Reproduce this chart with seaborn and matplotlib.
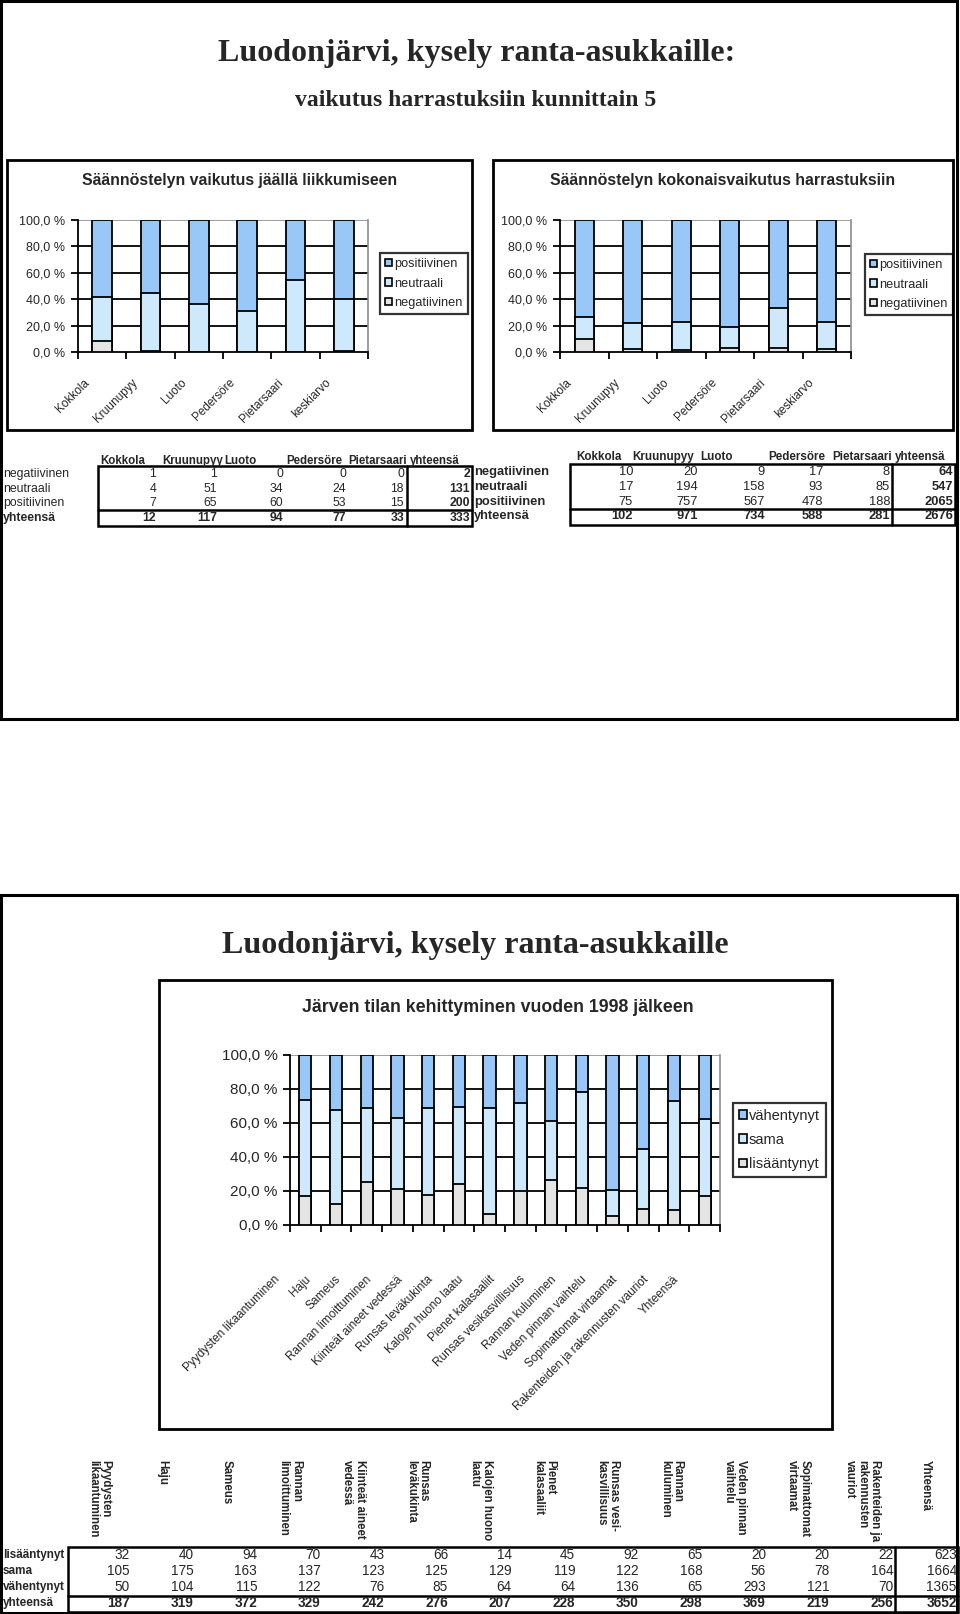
import matplotlib
matplotlib.use("Agg")
import matplotlib.pyplot as plt
from matplotlib.patches import Rectangle, Patch
from matplotlib.lines import Line2D
import numpy as np
import pandas as pd
import seaborn as sns

# --- data -------------------------------------------------------------
kunnat = ["Kokkola", "Kruunupyy", "Luoto", "Pedersöre", "Pietarsaari"]
luokat = ["negatiivinen", "neutraali", "positiivinen"]

jaa_neg = [1, 1, 0, 0, 0]
jaa_neu = [4, 51, 34, 24, 18]
jaa_pos = [7, 65, 60, 53, 15]

koko_neg = [10, 20, 9, 17, 8]
koko_neu = [17, 194, 158, 93, 85]
koko_pos = [75, 757, 567, 478, 188]

tekijat = ["Pyydysten likaantuminen", "Haju", "Sameus", "Rannan limoittuminen",
           "Kiinteät aineet vedessä", "Runsas leväkukinta", "Kalojen huono laatu",
           "Pienet kalasaaliit", "Runsas vesikasvillisuus", "Rannan kuluminen",
           "Veden pinnan vaihtelu", "Sopimattomat virtaamat",
           "Rakenteiden ja rakennusten vauriot"]
tekijat_otsikot = ["Pyydysten\nlikaantuminen", "Haju", "Sameus", "Rannan\nlimoittuminen",
                   "Kiinteät aineet\nvedessä", "Runsas\nleväkukinta", "Kalojen huono\nlaatu",
                   "Pienet\nkalasaaliit", "Runsas vesi-\nkasvillisuus", "Rannan\nkuluminen",
                   "Veden pinnan\nvaihtelu", "Sopimattomat\nvirtaamat",
                   "Rakenteiden ja\nrakennusten\nvauriot"]
lisaantynyt = [32, 40, 94, 70, 43, 66, 14, 45, 92, 65, 20, 20, 22]
sama = [105, 175, 163, 137, 123, 125, 129, 119, 122, 168, 56, 78, 164]
vahentynyt = [50, 104, 115, 122, 76, 85, 64, 64, 136, 65, 293, 121, 70]

SININEN = "#99C8F8"
VAALEA = "#CDE9FB"
HARMAA = "#E4E4E4"

W, H = 960, 1614
sns.set_style("white")
plt.rcParams["font.family"] = ["Liberation Sans", "DejaVu Sans"]
SERIF = ["Liberation Serif", "DejaVu Serif"]

fig = plt.figure(figsize=(W / 100, H / 100), dpi=100)


def px_ax(x0, y0, x1, y1):
    return fig.add_axes([x0 / W, 1 - y1 / H, (x1 - x0) / W, (y1 - y0) / H])


def laatikko(x0, y0, x1, y1, lw=2.0, color="black"):
    fig.add_artist(Rectangle((x0 / W, 1 - y1 / H), (x1 - x0) / W, (y1 - y0) / H,
                             transform=fig.transFigure, fill=False, ec=color, lw=lw))


def viiva(x0, y0, x1, y1, lw=1.5):
    fig.add_artist(Line2D([x0 / W, x1 / W], [1 - y0 / H, 1 - y1 / H],
                          transform=fig.transFigure, color="black", lw=lw))


def teksti(x, y, s, **kw):
    kw.setdefault("va", "center")
    fig.text(x / W, 1 - y / H, s, **kw)


def pinottu(ax, nimet, sarjat, varit):
    # sarjat alhaalta ylös; piirretään kumulatiiviset osuudet ylhäältä alas
    df = pd.DataFrame(dict(zip(range(len(sarjat)), sarjat)), index=nimet)
    kum = df.div(df.sum(axis=1), axis=0).cumsum(axis=1)
    for i in reversed(range(len(sarjat))):
        d = pd.DataFrame({"nimi": nimet, "osuus": kum[i].values})
        sns.barplot(data=d, x="nimi", y="osuus", order=nimet, color=varit[i],
                    saturation=1, width=0.4, edgecolor="black", linewidth=1.3,
                    ax=ax, zorder=3)


def muotoile(ax, n, ytick_size):
    ax.set_xlim(-0.5, n - 0.5)
    ax.set_ylim(0, 1)
    ax.set_xlabel("")
    ax.set_ylabel("")
    tasot = np.arange(0, 1.01, 0.2)
    ax.set_yticks(tasot)
    ax.set_yticklabels([f"{v * 100:.1f} %".replace(".", ",") for v in tasot],
                       fontsize=ytick_size)
    ax.set_xticks(np.arange(-0.5, n, 1.0))
    ax.set_xticklabels([])
    ax.tick_params(axis="both", direction="out", length=5, width=1.3, color="black",
                   left=True, bottom=True, pad=4)
    for v in tasot[1:-1]:
        ax.axhline(v, color="black", lw=1.3, zorder=1)
    ax.axhline(1.0, color="#8c8c8c", lw=1.2, zorder=1)
    for s in ["left", "bottom"]:
        ax.spines[s].set_color("black")
        ax.spines[s].set_linewidth(1.3)
    ax.spines["right"].set_color("#8c8c8c")
    ax.spines["right"].set_linewidth(1.2)
    ax.spines["top"].set_visible(False)
    if ax.get_legend():
        ax.get_legend().remove()


def selite(ax, nimet, varit, x0, y0, size, vali):
    kahvat = [Patch(facecolor=c, edgecolor="black", lw=1.2) for c in varit]
    leg = ax.legend(kahvat, nimet, loc="upper left",
                    bbox_to_anchor=(x0 / W, 1 - y0 / H), bbox_transform=fig.transFigure,
                    fontsize=size, frameon=True, fancybox=False, handlelength=0.55,
                    handleheight=0.55, handletextpad=0.15, labelspacing=vali,
                    borderpad=0.4, borderaxespad=0)
    leg.get_frame().set_edgecolor("black")
    leg.get_frame().set_linewidth(1.6)


# --- page frames and titles -------------------------------------------
laatikko(1, 1, 957, 719, lw=2.2)
laatikko(1, 895, 957, 1613, lw=2.2)

teksti(477, 53, "Luodonjärvi, kysely ranta-asukkaille:", ha="center",
       fontsize=23, fontweight="bold", family=SERIF)
teksti(476, 101, "vaikutus harrastuksiin kunnittain 5", ha="center",
       fontsize=17, fontweight="bold", family=SERIF)
teksti(475, 946, "Luodonjärvi, kysely ranta-asukkaille", ha="center",
       fontsize=23, fontweight="bold", family=SERIF)

# --- top charts --------------------------------------------------------
ylaosat = [
    ("Säännöstelyn vaikutus jäällä liikkumiseen", (jaa_neg, jaa_neu, jaa_pos),
     (7, 160, 472, 430), (78, 220, 368, 352), (380, 253)),
    ("Säännöstelyn kokonaisvaikutus harrastuksiin", (koko_neg, koko_neu, koko_pos),
     (493, 160, 953, 430), (560, 220, 851, 352), (865, 254)),
]
nimet_yla = kunnat + ["keskiarvo"]
for otsikko, sarjat, boksi, alue, sel in ylaosat:
    laatikko(*boksi, lw=2.0)
    teksti((boksi[0] + boksi[2]) / 2, 181, otsikko, ha="center",
           fontsize=11.4, fontweight="bold")
    ax = px_ax(*alue)
    sarjat_k = [list(s) + [sum(s)] for s in sarjat]
    pinottu(ax, nimet_yla, sarjat_k, [HARMAA, VAALEA, SININEN])
    muotoile(ax, len(nimet_yla), 9)
    for i, nimi in enumerate(nimet_yla):
        ax.text(i - 0.3, -0.22, nimi, transform=ax.get_xaxis_transform(),
                rotation=45, ha="right", va="center", rotation_mode="anchor",
                fontsize=8.5)
    selite(ax, luokat[::-1], [SININEN, VAALEA, HARMAA], sel[0], sel[1], 9.2, 0.58)

# --- top tables --------------------------------------------------------
def taulukko(x_otsikot, y_otsikko, x_rivi, y_rivit, x_luvut, sarjat, size,
             otsikko_size, rivi_bold, boksi, x_jako, y_jako):
    otsikot = kunnat + ["yhteensä"]
    for x, s in zip(x_otsikot, otsikot):
        teksti(x, y_otsikko, s, fontsize=otsikko_size, fontweight="bold")
    rivit = luokat + ["yhteensä"]
    sumrivi = [sum(v) for v in zip(*sarjat)]
    kaikki = list(sarjat) + [sumrivi]
    for r, (nimi, y) in enumerate(zip(rivit, y_rivit)):
        viimeinen = r == len(rivit) - 1
        teksti(x_rivi, y, nimi, fontsize=size,
               fontweight="bold" if (rivi_bold or viimeinen) else "normal")
        arvot = list(kaikki[r]) + [sum(kaikki[r])]
        for c, (x, v) in enumerate(zip(x_luvut, arvot)):
            bold = viimeinen or c == len(arvot) - 1
            teksti(x, y, str(v), ha="right", fontsize=size,
                   fontweight="bold" if bold else "normal")
    laatikko(*boksi, lw=1.8)
    viiva(x_jako, boksi[1], x_jako, boksi[3], lw=1.8)
    viiva(boksi[0], y_jako, boksi[2], y_jako, lw=1.8)


taulukko([100, 162, 224, 286, 348, 410], 461, 3, [474, 489, 503, 518],
         [156, 217, 283, 346, 404, 470], (jaa_neg, jaa_neu, jaa_pos), 8.8, 8.3, False,
         (98, 466, 472, 526), 407, 510)
taulukko([576, 632, 700, 768, 832, 895], 457, 474, [472, 487, 502, 516],
         [633, 698, 765, 823, 890, 953], (koko_neg, koko_neu, koko_pos), 9.3, 8.4, True,
         (570, 464, 955, 525), 892, 509)

# --- bottom chart ------------------------------------------------------
laatikko(159, 980, 832, 1429, lw=2.0)
teksti(498, 1008, "Järven tilan kehittyminen vuoden 1998 jälkeen", ha="center",
       fontsize=12.8, fontweight="bold")
ax = px_ax(290, 1055, 720, 1225)
nimet_ala = tekijat + ["Yhteensä"]
sarjat_ala = [list(s) + [sum(s)] for s in (lisaantynyt, sama, vahentynyt)]
pinottu(ax, nimet_ala, sarjat_ala, [HARMAA, VAALEA, SININEN])
muotoile(ax, len(nimet_ala), 11)
for i, nimi in enumerate(nimet_ala):
    ax.text(i - 0.9, -0.31, nimi, transform=ax.get_xaxis_transform(),
            rotation=45, ha="right", va="center", rotation_mode="anchor",
            fontsize=8.5)
selite(ax, ["vähentynyt", "sama", "lisääntynyt"], [SININEN, VAALEA, HARMAA],
       733, 1103, 10.5, 0.7)

# --- bottom table ------------------------------------------------------
x_oikea = [130 + i * 63.6 for i in range(14)]
for x, s in zip(x_oikea, tekijat_otsikot + ["Yhteensä"]):
    teksti(x - 31, 1460, s, rotation=270, ha="center", va="top", fontsize=8.3,
           fontweight="bold", multialignment="left", linespacing=1.05)
ala_rivit = ["lisääntynyt", "sama", "vähentynyt", "yhteensä"]
ala_y = [1555, 1571, 1587, 1603]
yht = [a + b + c for a, b, c in zip(lisaantynyt, sama, vahentynyt)]
for r, (nimi, y, sarja) in enumerate(zip(ala_rivit, ala_y,
                                         [lisaantynyt, sama, vahentynyt, yht])):
    teksti(3, y, nimi, fontsize=8.5, fontweight="bold")
    arvot = list(sarja) + [sum(sarja)]
    for x, v in zip(x_oikea, arvot):
        teksti(x, y, str(v), ha="right", fontsize=9.8,
               fontweight="bold" if r == 3 else "normal")
laatikko(68, 1547, 958, 1612, lw=1.8)
viiva(895, 1547, 895, 1612, lw=1.8)
viiva(68, 1596, 958, 1596, lw=1.8)

fig.savefig("out.png", dpi=100)
